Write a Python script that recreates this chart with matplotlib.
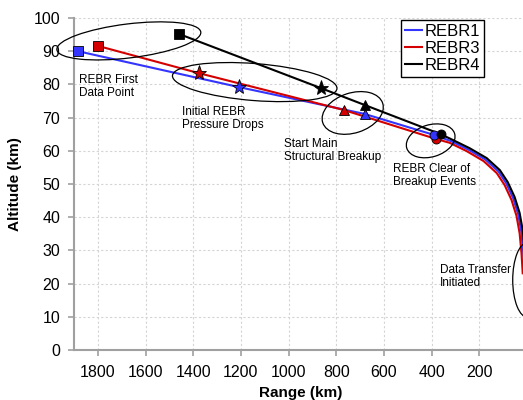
import numpy as np
import matplotlib.pyplot as plt
from matplotlib.patches import Ellipse

plt.rcParams['font.family'] = ['Liberation Sans', 'DejaVu Sans']

# trajectories, range (km) / altitude (km)
rebr1_rng = [1884, 1209, 681, 391, 318, 247, 175, 120, 87, 58, 37, 24, 16, 11]
rebr1_alt = [90.0, 79.2, 71.1, 64.8, 62.9, 60.4, 57.4, 53.8, 50.2, 45.7, 40.9, 35.7, 29.6, 23.6]
rebr3_rng = [1800, 1377, 769, 383, 324, 253, 182, 127, 94, 65, 44, 31, 23, 18]
rebr3_alt = [91.6, 83.4, 72.3, 63.6, 62.4, 59.9, 56.9, 53.3, 49.7, 45.2, 40.4, 35.2, 29.1, 23.1]
rebr4_rng = [1460, 865, 681, 362, 312, 241, 169, 114, 81, 52, 31, 18, 10, 5]
rebr4_alt = [95.2, 78.9, 73.8, 65.0, 63.3, 60.8, 57.8, 54.2, 50.6, 46.1, 41.3, 36.1, 30.0, 24.0]

# events: first data point, pressure drop, start of breakup, clear of breakup
rebr1_evt_rng = [1884, 1209, 681, 391]
rebr1_evt_alt = [90.0, 79.2, 71.1, 64.8]
rebr3_evt_rng = [1800, 1377, 769, 383]
rebr3_evt_alt = [91.6, 83.4, 72.3, 63.6]
rebr4_evt_rng = [1460, 865, 681, 362]
rebr4_evt_alt = [95.2, 78.9, 73.8, 65.0]

labels = ['REBR1', 'REBR3', 'REBR4']
notes = ['REBR First\nData Point', 'Initial REBR\nPressure Drops', 'Start Main\nStructural Breakup',
         'REBR Clear of\nBreakup Events', 'Data Transfer\nInitiated']

fig = plt.figure(figsize=(5.23, 4.0), dpi=100)
ax = fig.add_axes([74/523, 50/400, 453/523, 332/400])
ax.set_xlim(1900, 0)
ax.set_ylim(0, 100)

cols = ['#3434ff', '#d40000', 'black']
ax.plot(rebr1_rng, rebr1_alt, color=cols[0], lw=1.5, label=labels[0], zorder=3)
ax.plot(rebr3_rng, rebr3_alt, color=cols[1], lw=1.5, label=labels[1], zorder=3)
ax.plot(rebr4_rng, rebr4_alt, color=cols[2], lw=1.5, label=labels[2], zorder=3)

mk = ['s', '*', '^', 'o']
ms = [7, 11, 7, 6.5]
for rng, alt, c in [(rebr3_evt_rng, rebr3_evt_alt, cols[1]),
                    (rebr1_evt_rng, rebr1_evt_alt, cols[0]),
                    (rebr4_evt_rng, rebr4_evt_alt, cols[2])]:
    for i in range(4):
        ax.plot(rng[i], alt[i], marker=mk[i], ms=ms[i], color=c, mec='black', mew=0.6,
                ls='none', zorder=4, clip_on=False)

ax.set_xticks(np.arange(200, 1801, 200))
ax.set_yticks(np.arange(0, 101, 10))
ax.tick_params(labelsize=11.5, colors='#a0a0a0', labelcolor='black', length=4, width=1.2, pad=6)
ax.tick_params(axis='x', pad=7)
ax.grid(True, color='#d4d4d4', ls=(0, (2, 2)), lw=0.8)
ax.set_axisbelow(True)
for s in ['top', 'right']:
    ax.spines[s].set_visible(False)
for s in ['left', 'bottom']:
    ax.spines[s].set_color('#a0a0a0')
    ax.spines[s].set_linewidth(1.5)

ax.set_xlabel('Range (km)', fontsize=11, fontweight='bold')
ax.set_ylabel('Altitude (km)', fontsize=11, fontweight='bold')
ax.xaxis.set_label_coords(0.5, -0.108)
ax.yaxis.set_label_coords(-0.115, 0.5)

# circles round the events, sized in pixels
rings = [(1670, 93.1, 145, 34, 7), (1142, 80.7, 165, 37, -4.5), (731, 71.4, 63, 40, 18),
         (404, 63.0, 50, 32, 17), (-3, 21.1, 30, 75, 0)]
for cx, cy, w, h, a in rings:
    px, py = ax.transData.transform((cx, cy))
    ax.add_patch(Ellipse((px, py), w, h, angle=a, transform=None, fill=False,
                         ec='black', lw=0.9, clip_on=False, zorder=5))

note_pos = [(1880, 83.1), (1448, 73.5), (1020, 63.9), (563, 56.3), (366, 25.9)]
for (tx, ty), t in zip(note_pos, notes):
    ax.text(tx, ty, t, fontsize=8.5, va='top', ha='left', linespacing=1.15)

leg = ax.legend(loc='upper right', bbox_to_anchor=(484/523, 1 - 20/400), bbox_transform=fig.transFigure,
                fontsize=12, handlelength=1.0, handletextpad=0.15, labelspacing=0.12, borderpad=0.25,
                borderaxespad=0, fancybox=False, framealpha=1, edgecolor='black')
leg.get_frame().set_linewidth(1.0)

fig.savefig('out.png', dpi=100)
